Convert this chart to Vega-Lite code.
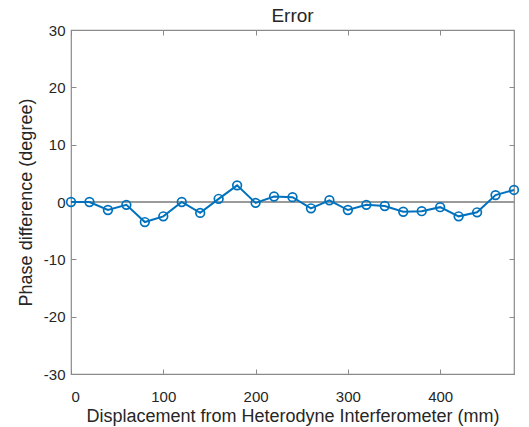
{
  "$schema": "https://vega.github.io/schema/vega-lite/v6.json",
  "autosize": "none",
  "width": 443,
  "height": 344,
  "padding": {"left": 71, "top": 30, "right": 15, "bottom": 53},
  "background": "white",
  "title": {"text": "Error", "fontSize": 19, "font": "Liberation Sans", "fontWeight": "normal", "color": "#262626", "offset": -3},
  "config": {
    "font": "Liberation Sans",
    "view": {"stroke": "#8a8a8a", "strokeWidth": 1.2},
    "axis": {"grid": false, "domain": false, "tickColor": "#8a8a8a", "tickSize": -5, "labelFontSize": 15, "labelColor": "#262626", "titleFontSize": 18, "titleColor": "#262626", "titleFontWeight": "normal", "labelFont": "Liberation Sans", "titleFont": "Liberation Sans", "labelExpr": "'' + datum.value"}
  },
  "data": {"values": [
    {"x": 0, "y": 0}, {"x": 20, "y": 0}, {"x": 40, "y": -1.4}, {"x": 60, "y": -0.5},
    {"x": 80, "y": -3.5}, {"x": 100, "y": -2.5}, {"x": 120, "y": 0}, {"x": 140, "y": -1.9},
    {"x": 160, "y": 0.55}, {"x": 180, "y": 2.9}, {"x": 200, "y": -0.15}, {"x": 220, "y": 0.96},
    {"x": 240, "y": 0.85}, {"x": 260, "y": -1.1}, {"x": 280, "y": 0.3}, {"x": 300, "y": -1.4},
    {"x": 320, "y": -0.5}, {"x": 340, "y": -0.7}, {"x": 360, "y": -1.7}, {"x": 380, "y": -1.6},
    {"x": 400, "y": -0.9}, {"x": 420, "y": -2.5}, {"x": 440, "y": -1.8}, {"x": 460, "y": 1.2},
    {"x": 480, "y": 2.1}
  ]},
  "layer": [
    {
      "mark": {"type": "rule", "color": "#9a9a9a", "strokeWidth": 1.2},
      "encoding": {
        "y": {"datum": 0, "type": "quantitative", "scale": {"domain": [-30, 30]},
          "axis": {"orient": "right", "labels": false, "title": null, "values": [-30, -20, -10, 0, 10, 20, 30]}}
      }
    },
    {
      "mark": {"type": "line", "color": "#0072BD", "strokeWidth": 2, "point": {"shape": "circle", "filled": false, "size": 75, "strokeWidth": 1.7, "color": "#0072BD"}},
      "encoding": {
        "x": {"field": "x", "type": "quantitative", "scale": {"domain": [0, 480], "nice": false, "zero": false},
          "axis": {"title": "Displacement from Heterodyne Interferometer (mm)", "values": [0, 100, 200, 300, 400], "labelPadding": 20, "titlePadding": 3}},
        "y": {"field": "y", "type": "quantitative", "scale": {"domain": [-30, 30], "nice": false},
          "axis": {"title": "Phase difference (degree)", "values": [-30, -20, -10, 0, 10, 20, 30], "labelPadding": 11, "titlePadding": 7.5}}
      }
    },
    {
      "mark": {"type": "point", "opacity": 0},
      "encoding": {
        "x": {"field": "x", "type": "quantitative", "scale": {"domain": [0, 480], "nice": false},
          "axis": {"orient": "top", "labels": false, "title": null, "values": [0, 100, 200, 300, 400]}}
      }
    }
  ],
  "resolve": {"axis": {"x": "independent", "y": "independent"}}
}
